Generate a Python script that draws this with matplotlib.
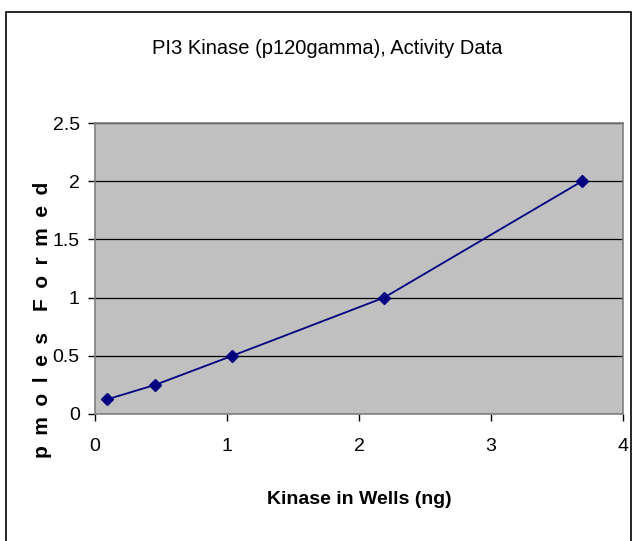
import matplotlib.pyplot as plt
from matplotlib.patches import Rectangle
from matplotlib import font_manager

# Dados
kinase_ng = [0.09, 0.455, 1.04, 2.19, 3.69]
pmoles = [0.125, 0.25, 0.5, 1.0, 2.0]

x_ticks = [0, 1, 2, 3, 4]
y_ticks = [0, 0.5, 1, 1.5, 2, 2.5]

names = {f.name for f in font_manager.fontManager.ttflist}
narrow = 'Liberation Sans Narrow' if 'Liberation Sans Narrow' in names else 'Liberation Sans'
plt.rcParams['font.family'] = [narrow, 'DejaVu Sans']

fig = plt.figure(figsize=(6.34, 5.41), dpi=100)
ax = fig.add_axes([95 / 634, 1 - 414 / 541, 528 / 634, 291 / 541])
ax.set_facecolor('#C0C0C0')

ax.plot(kinase_ng, pmoles, color='#000080', linewidth=1.3, marker='D',
        markersize=6, markerfacecolor='#000080', markeredgecolor='#000080', zorder=3)

ax.set_xlim(0, 4)
ax.set_ylim(0, 2.5)
ax.set_xticks(x_ticks)
ax.set_yticks(y_ticks)
ax.set_xticklabels([str(t) for t in x_ticks])
ax.set_yticklabels(['0', '0.5', '1', '1.5', '2', '2.5'])
ax.tick_params(axis='both', labelsize=14, length=5, width=1, color='black',
               direction='out', pad=6)
ax.tick_params(axis='x', pad=12)
ax.grid(axis='y', color='black', linewidth=0.9)
ax.set_axisbelow(True)
for side in ['top', 'right', 'left', 'bottom']:
    ax.spines[side].set_color('#808080')
    ax.spines[side].set_linewidth(1.2)

fig.text(327 / 634, 1 - 48 / 541, 'PI3 Kinase (p120gamma), Activity Data',
         ha='center', va='center', fontsize=14.5)
fig.text(359 / 634, 1 - 500 / 541, 'Kinase in Wells (ng)',
         ha='center', va='center', fontsize=14, fontweight='bold')
ylab = '\u2002'.join('pmoles') + '\u2002\u2002' + '\u2002'.join('Formed')
fig.text(43 / 634, 1 - 320 / 541, ylab,
         ha='center', va='center', rotation=90, fontsize=15, fontweight='bold')

# Borda da figura
fig.patches.append(Rectangle((6 / 634, -0.01), 625 / 634, 1 - 12 / 541 + 0.01,
                             transform=fig.transFigure, fill=False,
                             edgecolor='black', linewidth=1.2))

fig.savefig('out.png', dpi=100)
